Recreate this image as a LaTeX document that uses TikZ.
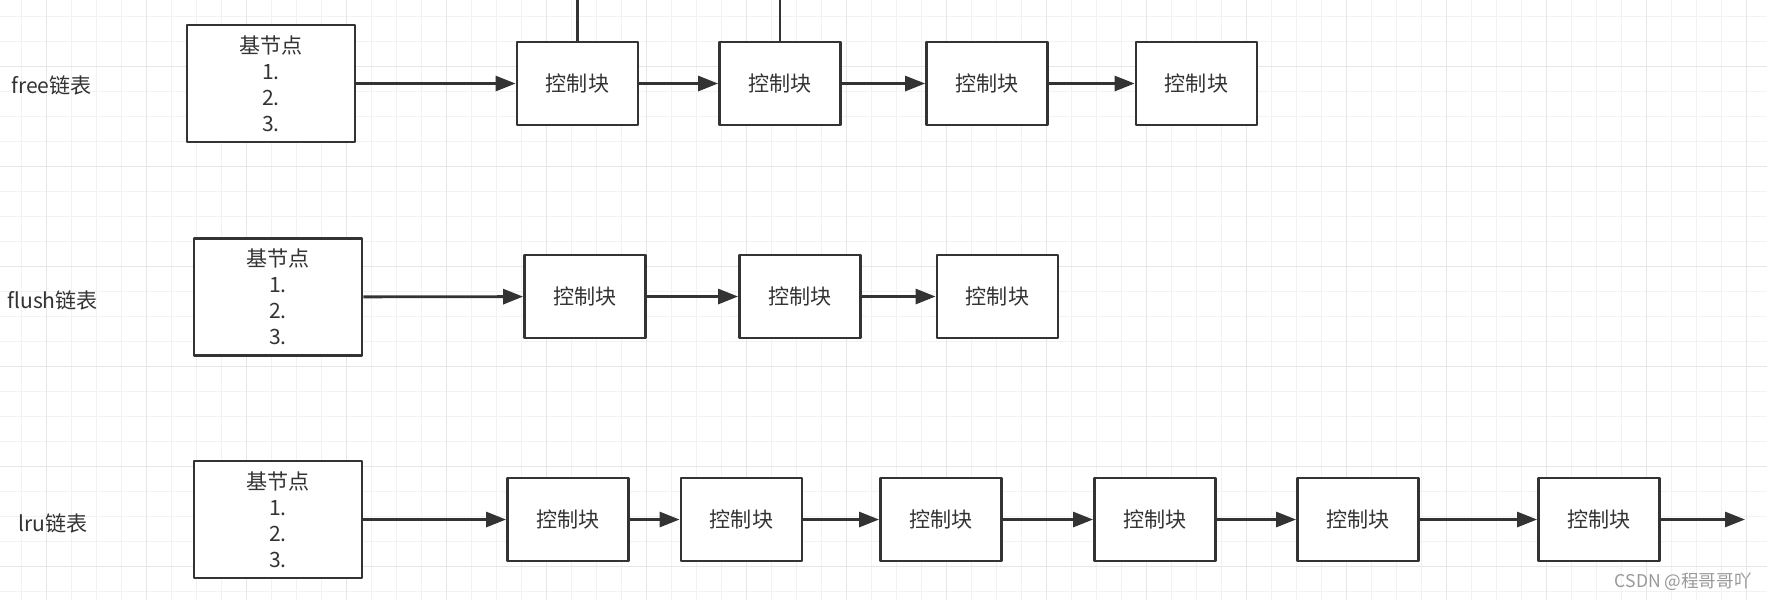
\documentclass[tikz,border=0pt]{standalone}
\usepackage{fontspec}
\setmainfont{Noto Sans CJK SC}
\usetikzlibrary{arrows.meta}
\definecolor{xian}{HTML}{333333}
\definecolor{gexi}{HTML}{F2F2F2}
\definecolor{gecu}{HTML}{E6E6E6}
\begin{document}
\begin{tikzpicture}[x=0.02cm,y=-0.02cm,line join=round,
	kuai/.style={draw=xian,line width=1.6pt,fill=white,inner sep=0pt,minimum width=2.42cm,minimum height=1.66cm,text=xian,font=\fontsize{12pt}{14.8pt}\selectfont},
	jidian/.style={kuai,minimum width=3.36cm,minimum height=2.34cm,align=center},
	lian/.style={draw=xian,line width=1.6pt,-{Triangle[length=0.4cm,width=0.3cm]}},
	biaoti/.style={anchor=west,inner sep=0pt,text=xian,font=\fontsize{12pt}{14pt}\selectfont}]
	
	\useasboundingbox[fill=white] (0,0) rectangle (1767,600);
	% Vẽ lưới nền
	\foreach \i in {0,...,70} \draw[gexi,line width=0.5pt] ({21.7+25*\i},0)--++(0,600);
	\foreach \i in {0,...,23} \draw[gexi,line width=0.5pt] (0,{16.7+25*\i})--++(1767,0);
	\foreach \i in {0,...,17} \draw[gecu,line width=0.8pt] ({46.7+100*\i},0)--++(0,600);
	\foreach \i in {0,...,5} \draw[gecu,line width=0.8pt] (0,{66.7+100*\i})--++(1767,0);
	
	% free链表
	\node[biaoti] (t1) at (11,85) {free链表};
	\node[jidian] (j1) at (271,83.5) {基节点\\1.\\2.\\3.};
	\node[kuai] (k11) at (577.5,83.5) {控制块};
	\node[kuai] (k12) at (780,83.5) {控制块};
	\node[kuai] (k13) at (987,83.5) {控制块};
	\node[kuai] (k14) at (1196.5,83.5) {控制块};
	\coordinate (s1) at (577.5,0);
	\coordinate (s2) at (780,0);
	\draw[lian] (j1)--(k11);
	\draw[lian] (k11)--(k12);
	\draw[lian] (k12)--(k13);
	\draw[lian] (k13)--(k14);
	\draw[xian,line width=1.6pt] (k11.north)--(s1) (k12.north)--(s2);
	
	% flush链表
	\node[biaoti] (t2) at (7,300) {flush链表};
	\node[jidian] (j2) at (278,297) {基节点\\1.\\2.\\3.};
	\node[kuai] (k21) at (585,296.5) {控制块};
	\node[kuai] (k22) at (800,296.5) {控制块};
	\node[kuai] (k23) at (997.5,296.5) {控制块};
	\draw[lian] (j2)--(k21);
	\draw[lian] (k21)--(k22);
	\draw[lian] (k22)--(k23);
	
	% lru链表
	\node[biaoti] (t3) at (18,523) {lru链表};
	\node[jidian] (j3) at (278,519.5) {基节点\\1.\\2.\\3.};
	\node[kuai] (k31) at (568,519.5) {控制块};
	\node[kuai] (k32) at (741.5,519.5) {控制块};
	\node[kuai] (k33) at (941,519.5) {控制块};
	\node[kuai] (k34) at (1155,519.5) {控制块};
	\node[kuai] (k35) at (1358,519.5) {控制块};
	\node[kuai] (k36) at (1599,519.5) {控制块};
	\coordinate (e3) at (1745,519.5);
	\draw[lian] (j3)--(k31);
	\draw[lian] (k31)--(k32);
	\draw[lian] (k32)--(k33);
	\draw[lian] (k33)--(k34);
	\draw[lian] (k34)--(k35);
	\draw[lian] (k35)--(k36);
	\draw[lian] (k36)--(e3);
	
	\node[anchor=east,inner sep=0pt,text=gray!80,font=\fontsize{10pt}{12pt}\selectfont] (sy) at (1752,582) {CSDN @程哥哥吖};
\end{tikzpicture}
\end{document}
